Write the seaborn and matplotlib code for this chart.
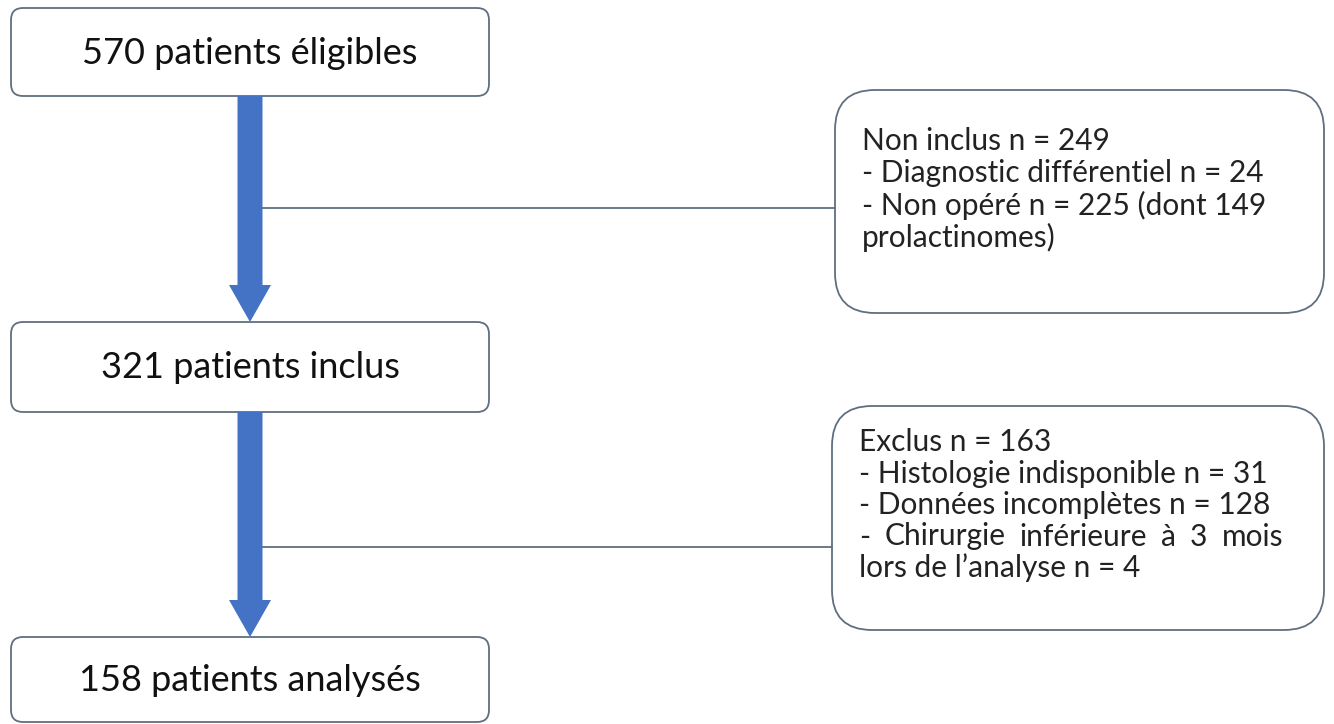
import matplotlib
matplotlib.use("Agg")
import matplotlib.pyplot as plt
from matplotlib.patches import FancyBboxPatch, FancyArrow
import seaborn as sns

# flowchart content
main_counts = [570, 321, 158]
main_labels = ["patients éligibles", "patients inclus", "patients analysés"]

excl_titles = ["Non inclus n = 249", "Exclus n = 163"]
excl_details = [
    ["- Diagnostic différentiel n = 24",
     "- Non opéré n = 225 (dont 149",
     "prolactinomes)"],
    ["- Histologie indisponible n = 31",
     "- Données incomplètes n = 128",
     "- Chirurgie inférieure à 3 mois",
     "lors de l\u2019analyse n = 4"],
]
# lines stretched to the right margin (justified paragraph)
justified = [[], ["- Chirurgie inférieure à 3 mois"]]

sns.set_theme(style="white")
plt.rcParams["font.family"] = ["Lato", "DejaVu Sans"]

fig = plt.figure(figsize=(13.34, 7.24), dpi=100)
ax = fig.add_axes([0, 0, 1, 1])
ax.set_xlim(0, 1334)
ax.set_ylim(724, 0)
ax.axis("off")
renderer = fig.canvas.get_renderer()

edge = "#5f6f80"
blue = "#4472c4"

# main boxes (left column)
main_y = [(8, 96), (322, 412), (637, 722)]
for (y0, y1), n, lab in zip(main_y, main_counts, main_labels):
    ax.add_patch(FancyBboxPatch((11, y0), 478, y1 - y0,
                                boxstyle="round,pad=0,rounding_size=12",
                                fc="white", ec=edge, lw=1.3))
    ax.text(250, (y0 + y1) / 2 + 1, f"{n} {lab}", ha="center", va="center",
            fontsize=26, color="#111111")

# arrows between main boxes
for (a0, a1), (b0, b1) in zip(main_y[:-1], main_y[1:]):
    ax.add_patch(FancyArrow(250, a1, 0, b0 - a1, width=25, head_width=42,
                            head_length=37, length_includes_head=True,
                            fc=blue, ec=blue, lw=0))


def text_width(s, size):
    t = ax.text(0, 0, s, fontsize=size)
    w = t.get_window_extent(renderer).width
    t.remove()
    return w


# side boxes with exclusions
side_y = [(90, 313), (406, 630)]
side_x = [835, 832]
branch_y = [208, 547]
right_edge = [1288, 1283]
first_line = [51, 36]
line_step = [32, 31.5]
fs = 21.5
for (y0, y1), x0, by, title, details, just, xr, f0, step in zip(
        side_y, side_x, branch_y, excl_titles, excl_details, justified,
        right_edge, first_line, line_step):
    ax.plot([262, x0], [by, by], color=edge, lw=1.3)
    ax.add_patch(FancyBboxPatch((x0, y0), 1324 - x0, y1 - y0,
                                boxstyle="round,pad=0,rounding_size=40",
                                fc="white", ec=edge, lw=1.3))
    lines = [title] + details
    xl = x0 + 27
    for i, line in enumerate(lines):
        y = y0 + f0 + step * i
        if line in just:
            words = line.split(" ")
            widths = [text_width(w, fs) for w in words]
            gap = (xr - xl - sum(widths)) / (len(words) - 1)
            x = xl
            for w, ww in zip(words, widths):
                ax.text(x, y, w, ha="left", va="center", fontsize=fs,
                        color="#222222")
                x += ww + gap
        else:
            ax.text(xl, y, line, ha="left", va="center", fontsize=fs,
                    color="#222222")

fig.savefig("out.png", dpi=100, facecolor="white")
